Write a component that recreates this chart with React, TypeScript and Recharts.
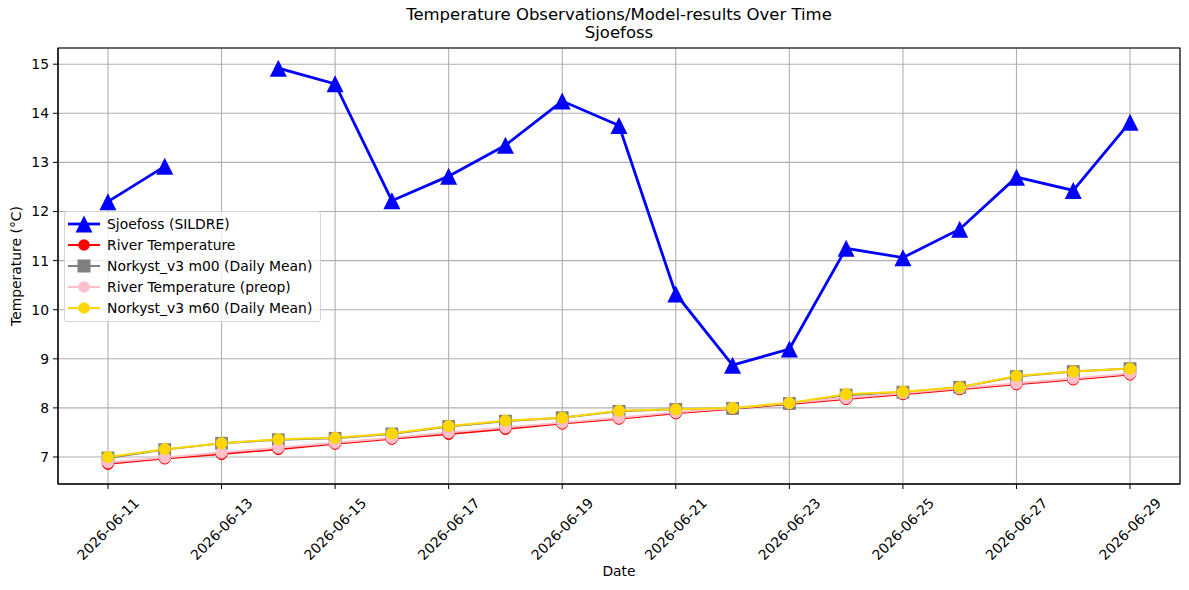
import { CartesianGrid, Line, LineChart, ReferenceArea, XAxis, YAxis } from "recharts";

const dates = [
  "2026-06-11", "2026-06-12", "2026-06-13", "2026-06-14", "2026-06-15",
  "2026-06-16", "2026-06-17", "2026-06-18", "2026-06-19", "2026-06-20",
  "2026-06-21", "2026-06-22", "2026-06-23", "2026-06-24", "2026-06-25",
  "2026-06-26", "2026-06-27", "2026-06-28", "2026-06-29",
];
const sjoefoss = [12.2, 12.92, null, 14.92, 14.6, 12.22, 12.72, 13.35, 14.25, 13.75, 10.32, 8.87, 9.2, 11.25, 11.06, 11.64, 12.7, 12.43, 13.82];
const riverTemp = [6.86, 6.97, 7.06, 7.16, 7.27, 7.37, 7.47, 7.57, 7.68, 7.78, 7.89, 7.98, 8.08, 8.18, 8.28, 8.38, 8.48, 8.58, 8.68];
const norkystM00 = [6.98, 7.15, 7.28, 7.35, 7.38, 7.47, 7.62, 7.73, 7.8, 7.93, 7.97, 7.99, 8.09, 8.26, 8.32, 8.42, 8.64, 8.74, 8.8];
const riverPreop = [6.89, 6.99, 7.09, 7.19, 7.29, 7.39, 7.5, 7.6, 7.7, 7.8, 7.91, 8.0, 8.1, 8.2, 8.3, 8.4, 8.5, 8.6, 8.7];
const norkystM60 = [7.0, 7.16, 7.28, 7.36, 7.39, 7.48, 7.63, 7.74, 7.8, 7.94, 7.97, 8.0, 8.1, 8.28, 8.33, 8.42, 8.65, 8.74, 8.8];
const xTicks = [0, 2, 4, 6, 8, 10, 12, 14, 16, 18];
const yTicks = [7, 8, 9, 10, 11, 12, 13, 14, 15];

const rows = dates.map((d, i) => ({
  idx: i,
  date: d,
  sjoefoss: sjoefoss[i],
  river: riverTemp[i],
  m00: norkystM00[i],
  preop: riverPreop[i],
  m60: norkystM60[i],
}));

const FONT = "'DejaVu Sans', sans-serif";
const X_DOMAIN: [number, number] = [-0.88, 18.88];
const Y_DOMAIN: [number, number] = [6.45, 15.33];

function triangle(props: any) {
  const { cx, cy, index, value } = props;
  if (value == null || cx == null || cy == null) return <g key={`t${index}`} />;
  const h = 8.5;
  return (
    <path
      key={`t${index}`}
      d={`M${cx},${cy - h} L${cx - h},${cy + h} L${cx + h},${cy + h} Z`}
      fill="#0000ff"
    />
  );
}

function square(props: any) {
  const { cx, cy, index } = props;
  const s = 6.4;
  return <rect key={`s${index}`} x={cx - s} y={cy - s} width={s * 2} height={s * 2} fill="#808080" />;
}

function circle(color: string) {
  return (props: any) => {
    const { cx, cy, index } = props;
    return <circle key={`c${color}${index}`} cx={cx} cy={cy} r={5.6} fill={color} stroke={color} strokeWidth={1} />;
  };
}

function DateTick(props: any) {
  const { x, y, payload } = props;
  const cy = y + 38;
  return (
    <text
      x={x}
      y={cy}
      transform={`rotate(-45 ${x} ${cy})`}
      textAnchor="middle"
      dominantBaseline="central"
      fontFamily={FONT}
      fontSize={13.9}
      fill="#000"
    >
      {dates[payload.value]}
    </text>
  );
}

const legendItems = [
  { label: "Sjoefoss (SILDRE)", color: "#0000ff", marker: "tri", lw: 2.8 },
  { label: "River Temperature", color: "#ff0000", marker: "circle", lw: 2 },
  { label: "Norkyst_v3 m00 (Daily Mean)", color: "#808080", marker: "square", lw: 2 },
  { label: "River Temperature (preop)", color: "#ffc0cb", marker: "circle", lw: 2 },
  { label: "Norkyst_v3 m60 (Daily Mean)", color: "#ffd700", marker: "circle", lw: 2 },
];

function LegendBox() {
  return (
    <div
      style={{
        position: "absolute",
        left: 64,
        top: 211,
        width: 255,
        height: 107,
        border: "1px solid #d6d6d6",
        borderRadius: 3,
        background: "rgba(255,255,255,0.8)",
        fontFamily: FONT,
        fontSize: 13.9,
        paddingTop: 2,
      }}
    >
      {legendItems.map((it) => (
        <div key={it.label} style={{ display: "flex", alignItems: "center", height: 20.8 }}>
          <svg width={40} height={20} style={{ marginLeft: 2, flex: "none" }}>
            <line x1={1} x2={33} y1={10} y2={10} stroke={it.color} strokeWidth={it.lw} />
            {it.marker === "tri" && <path d="M17,1.5 L8.5,18.5 L25.5,18.5 Z" fill={it.color} />}
            {it.marker === "circle" && <circle cx={17} cy={10} r={5.8} fill={it.color} />}
            {it.marker === "square" && <rect x={10.5} y={3.5} width={13} height={13} fill={it.color} />}
          </svg>
          <span style={{ whiteSpace: "nowrap" }}>{it.label}</span>
        </div>
      ))}
    </div>
  );
}

const titleStyle = {
  position: "absolute" as const,
  left: 58,
  width: 1122,
  textAlign: "center" as const,
  fontFamily: FONT,
  fontSize: 16.5,
  lineHeight: "18px",
  height: 18,
};

export default function App() {
  return (
    <div style={{ position: "absolute", left: 0, top: 0, width: 1189, height: 590, background: "#fff" }}>
      <div style={{ ...titleStyle, top: 6 }}>Temperature Observations/Model-results Over Time</div>
      <div style={{ ...titleStyle, top: 24 }}>Sjoefoss</div>
      <LineChart
        width={1189}
        height={590}
        data={rows}
        margin={{ top: 48, right: 9, bottom: 0, left: 0 }}
        style={{ position: "absolute", left: 0, top: 0 }}
      >
        <CartesianGrid stroke="#b0b0b0" strokeWidth={1.1} />
        <XAxis
          dataKey="idx"
          type="number"
          domain={X_DOMAIN}
          allowDataOverflow
          ticks={xTicks}
          interval={0}
          height={106}
          tick={<DateTick />}
          tickSize={5}
          stroke="#000"
          tickLine={{ stroke: "#000" }}
        />
        <YAxis
          type="number"
          domain={Y_DOMAIN}
          allowDataOverflow
          ticks={yTicks}
          interval={0}
          width={58}
          tickSize={5}
          tickMargin={4}
          stroke="#000"
          tick={{ fill: "#000", fontFamily: FONT, fontSize: 13.9 }}
        />
        <ReferenceArea
          x1={X_DOMAIN[0]}
          x2={X_DOMAIN[1]}
          y1={Y_DOMAIN[0]}
          y2={Y_DOMAIN[1]}
          fill="none"
          stroke="#000"
          strokeWidth={1.1}
          ifOverflow="visible"
        />
        <Line dataKey="sjoefoss" stroke="#0000ff" strokeWidth={2.8} dot={triangle} activeDot={false} isAnimationActive={false} connectNulls={false} />
        <Line dataKey="river" stroke="#ff0000" strokeWidth={2} dot={circle("#ff0000")} activeDot={false} isAnimationActive={false} />
        <Line dataKey="m00" stroke="#808080" strokeWidth={2} dot={square} activeDot={false} isAnimationActive={false} />
        <Line dataKey="preop" stroke="#ffc0cb" strokeWidth={2} dot={circle("#ffc0cb")} activeDot={false} isAnimationActive={false} />
        <Line dataKey="m60" stroke="#ffd700" strokeWidth={2} dot={circle("#ffd700")} activeDot={false} isAnimationActive={false} />
      </LineChart>
      <div
        style={{
          position: "absolute",
          left: 58,
          width: 1122,
          top: 563,
          textAlign: "center",
          fontFamily: FONT,
          fontSize: 13.9,
        }}
      >
        Date
      </div>
      <div
        style={{
          position: "absolute",
          left: 16,
          top: 266,
          transform: "translate(-50%, -50%) rotate(-90deg)",
          whiteSpace: "nowrap",
          fontFamily: FONT,
          fontSize: 13.9,
        }}
      >
        Temperature (°C)
      </div>
      <LegendBox />
    </div>
  );
}
